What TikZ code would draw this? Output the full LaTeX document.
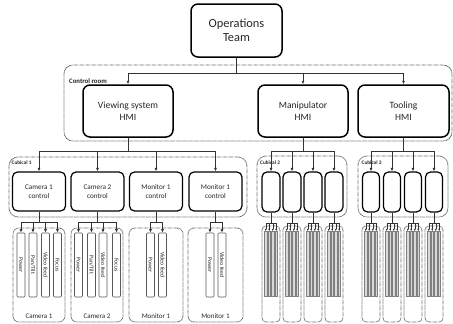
\documentclass[tikz,border=0pt]{standalone}
\usepackage{fontspec}
\setmainfont{Carlito}
\usetikzlibrary{arrows.meta}

\begin{document}
\begin{tikzpicture}[x=1pt,y=-1pt,
  every node/.style={text=black!85},
  mainbox/.style={draw=black, line width=1.5pt, rounded corners=7pt, align=center, inner sep=0pt},
  ctrlbox/.style={draw=black, line width=1.2pt, rounded corners=5pt, align=center, inner sep=0pt, minimum height=39pt},
  zone/.style={draw=black!70, line width=0.8pt, dash pattern=on 0.6pt off 0.6pt, rounded corners=9pt, inner sep=0pt},
  barbox/.style={draw=black!65, line width=0.7pt, rounded corners=1pt, inner sep=0pt, minimum width=8pt, minimum height=64pt},
  thinbar/.style={draw=black!50, fill=black!15, line width=0.4pt, inner sep=0pt, minimum width=2.8pt, minimum height=65pt},
  wire/.style={draw=black!80, line width=0.7pt},
  feed/.style={wire, -{Latex[length=3.5pt,width=3pt]}},
  smallfeed/.style={wire, line width=0.5pt, -{Latex[length=2.5pt,width=2.2pt]}},
  barlabel/.style={rotate=-90, font=\fontsize{5.8}{6}\selectfont, inner sep=0pt},
  grouplabel/.style={font=\fontsize{7}{8}\selectfont, inner sep=0pt},
  zonelabel/.style={font=\bfseries\fontsize{5.3}{6}\selectfont, anchor=west, inner sep=0pt},
]
\useasboundingbox (0,0) rectangle (453,324);

% ---- dotted areas ----
\node[zone, minimum width=388pt, minimum height=76pt] (ctrlroom) at (258,103) {};
\node[zonelabel, font=\bfseries\fontsize{6.8}{8}\selectfont] (ctrlroomlbl) at (69,81) {Control room};

\node[zone, minimum width=238pt, minimum height=60pt] (cub1) at (128,187) {};
\node[zone, minimum width=90pt, minimum height=61pt] (cub2) at (302,186.5) {};
\node[zone, minimum width=90pt, minimum height=61pt] (cub3) at (403,186.5) {};
\node[zonelabel] (cub1lbl) at (11.5,162.5) {Cubical 1};
\node[zonelabel] (cub2lbl) at (260,162.5) {Cubical 2};
\node[zonelabel] (cub3lbl) at (361.5,162.5) {Cubical 3};

% ---- main boxes ----
\node[mainbox, minimum width=91pt, minimum height=53pt, font=\fontsize{12.4}{14}\selectfont] (ops) at (236.5,30.5) {Operations\\Team};
\node[mainbox, minimum width=90pt, minimum height=52pt, font=\fontsize{9.6}{12}\selectfont] (vhmi) at (128,111) {Viewing system\\HMI};
\node[mainbox, minimum width=90pt, minimum height=52pt, font=\fontsize{9.6}{12}\selectfont] (mhmi) at (303,111) {Manipulator\\HMI};
\node[mainbox, minimum width=91pt, minimum height=52pt, font=\fontsize{9.6}{12}\selectfont] (thmi) at (403.5,111) {Tooling\\HMI};

% ---- cubical 1 controls ----
\foreach \n/\cx/\t in {cam1ctl/39/Camera 1, cam2ctl/97.5/Camera 2, mon1ctl/156/Monitor 1, mon2ctl/215.5/Monitor 1}
  \node[ctrlbox, minimum width=53pt, font=\fontsize{7.2}{9}\selectfont] (\n) at (\cx,191.5) {\t\\control};

% ---- cubical 2 and 3 controls ----
\foreach \n/\cx in {m1/271, m2/292, m3/313, m4/334}
  \node[ctrlbox, minimum width=18pt, minimum height=40pt] (\n) at (\cx,192) {};
\foreach \n/\cx in {t1/371, t2/392, t3/413, t4/434}
  \node[ctrlbox, minimum width=17pt, minimum height=40pt] (\n) at (\cx,192) {};

% ---- buses ----
\coordinate (bus0) at (0,73);
\coordinate (bus1) at (0,151);
\coordinate (bus2) at (0,222);
\coordinate (bus3) at (0,223);

\draw[wire] (ops.south) -- (ops.south |- bus0);
\draw[wire] (vhmi.north |- bus0) -- (thmi.north |- bus0);
\foreach \n in {vhmi, mhmi, thmi}
  \draw[feed] (\n.north |- bus0) -- (\n.north);

\draw[wire] (vhmi.south) -- (vhmi.south |- bus1);
\draw[wire] (cam1ctl.north |- bus1) -- (mon2ctl.north |- bus1);
\foreach \n in {cam1ctl, cam2ctl, mon1ctl, mon2ctl}
  \draw[feed] (\n.north |- bus1) -- (\n.north);

\draw[wire] (mhmi.south) -- (mhmi.south |- bus1);
\draw[wire] (m1.north |- bus1) -- (m4.north |- bus1);
\foreach \n in {m1, m2, m3, m4}
  \draw[feed] (\n.north |- bus1) -- (\n.north);

\draw[wire] (thmi.south) -- (thmi.south |- bus1);
\draw[wire] (t1.north |- bus1) -- (t4.north |- bus1);
\foreach \n in {t1, t2, t3, t4}
  \draw[feed] (\n.north |- bus1) -- (\n.north);

% ---- camera and monitor units ----
\node[zone, rounded corners=6pt, minimum width=52pt, minimum height=94pt] (cam1) at (39,275) {};
\node[zone, rounded corners=6pt, minimum width=52pt, minimum height=94pt] (cam2) at (97,275) {};
\node[zone, rounded corners=6pt, minimum width=54pt, minimum height=94pt] (mon1) at (156,275) {};
\node[zone, rounded corners=6pt, minimum width=55pt, minimum height=94pt] (mon2) at (215.5,275) {};

\node[grouplabel] (cam1lbl) at (39,316) {Camera 1};
\node[grouplabel] (cam2lbl) at (97,316) {Camera 2};
\node[grouplabel] (mon1lbl) at (156,316) {Monitor 1};
\node[grouplabel] (mon2lbl) at (215.5,316) {Monitor 1};

\foreach \n/\cx/\t in {c1a/21/Power, c1b/33/{Pan/Tilt}, c1c/45.5/Video feed, c1d/57.5/Focus,
                       c2a/78.5/Power, c2b/91.5/{Pan/Tilt}, c2c/103/Video feed, c2d/116.5/Focus,
                       m1a/150.5/Power, m1b/162.5/Video feed,
                       m2a/210/Power, m2b/222/Video feed} {
  \node[barbox] (\n) at (\cx,265) {};
  \node[barlabel] (\n txt) at (\n.center) {\t};
}

\foreach \c/\a/\b in {cam1ctl/c1a/c1d, cam2ctl/c2a/c2d, mon1ctl/m1a/m1b, mon2ctl/m2a/m2b} {
  \draw[wire] (\c.south) -- (\c.south |- bus2);
  \draw[wire] (\a.north |- bus2) -- (\b.north |- bus2);
}
\foreach \n in {c1a,c1b,c1c,c1d,c2a,c2b,c2c,c2d,m1a,m1b,m2a,m2b}
  \draw[feed] (\n.north |- bus2) -- (\n.north);

% ---- manipulator and tooling units ----
\foreach \g/\cx in {m1/271, m2/292, m3/313, m4/334, t1/371, t2/392, t3/413, t4/434} {
  \node[zone, rounded corners=4pt, minimum width=18pt, minimum height=96pt] (\g grp) at (\cx,274) {};
  \foreach \k/\dx in {1/-5.25, 2/-1.75, 3/1.75, 4/5.25}
    \path (\cx,264) ++(\dx,0) node[thinbar] (\g b\k) {};
  \draw[wire] (\g.south) -- (\g.south |- bus3);
  \draw[wire] (\g b1.north |- bus3) -- (\g b4.north |- bus3);
  \foreach \k in {1,...,4}
    \draw[smallfeed] (\g b\k.north |- bus3) -- (\g b\k.north);
}
\end{tikzpicture}
\end{document}
